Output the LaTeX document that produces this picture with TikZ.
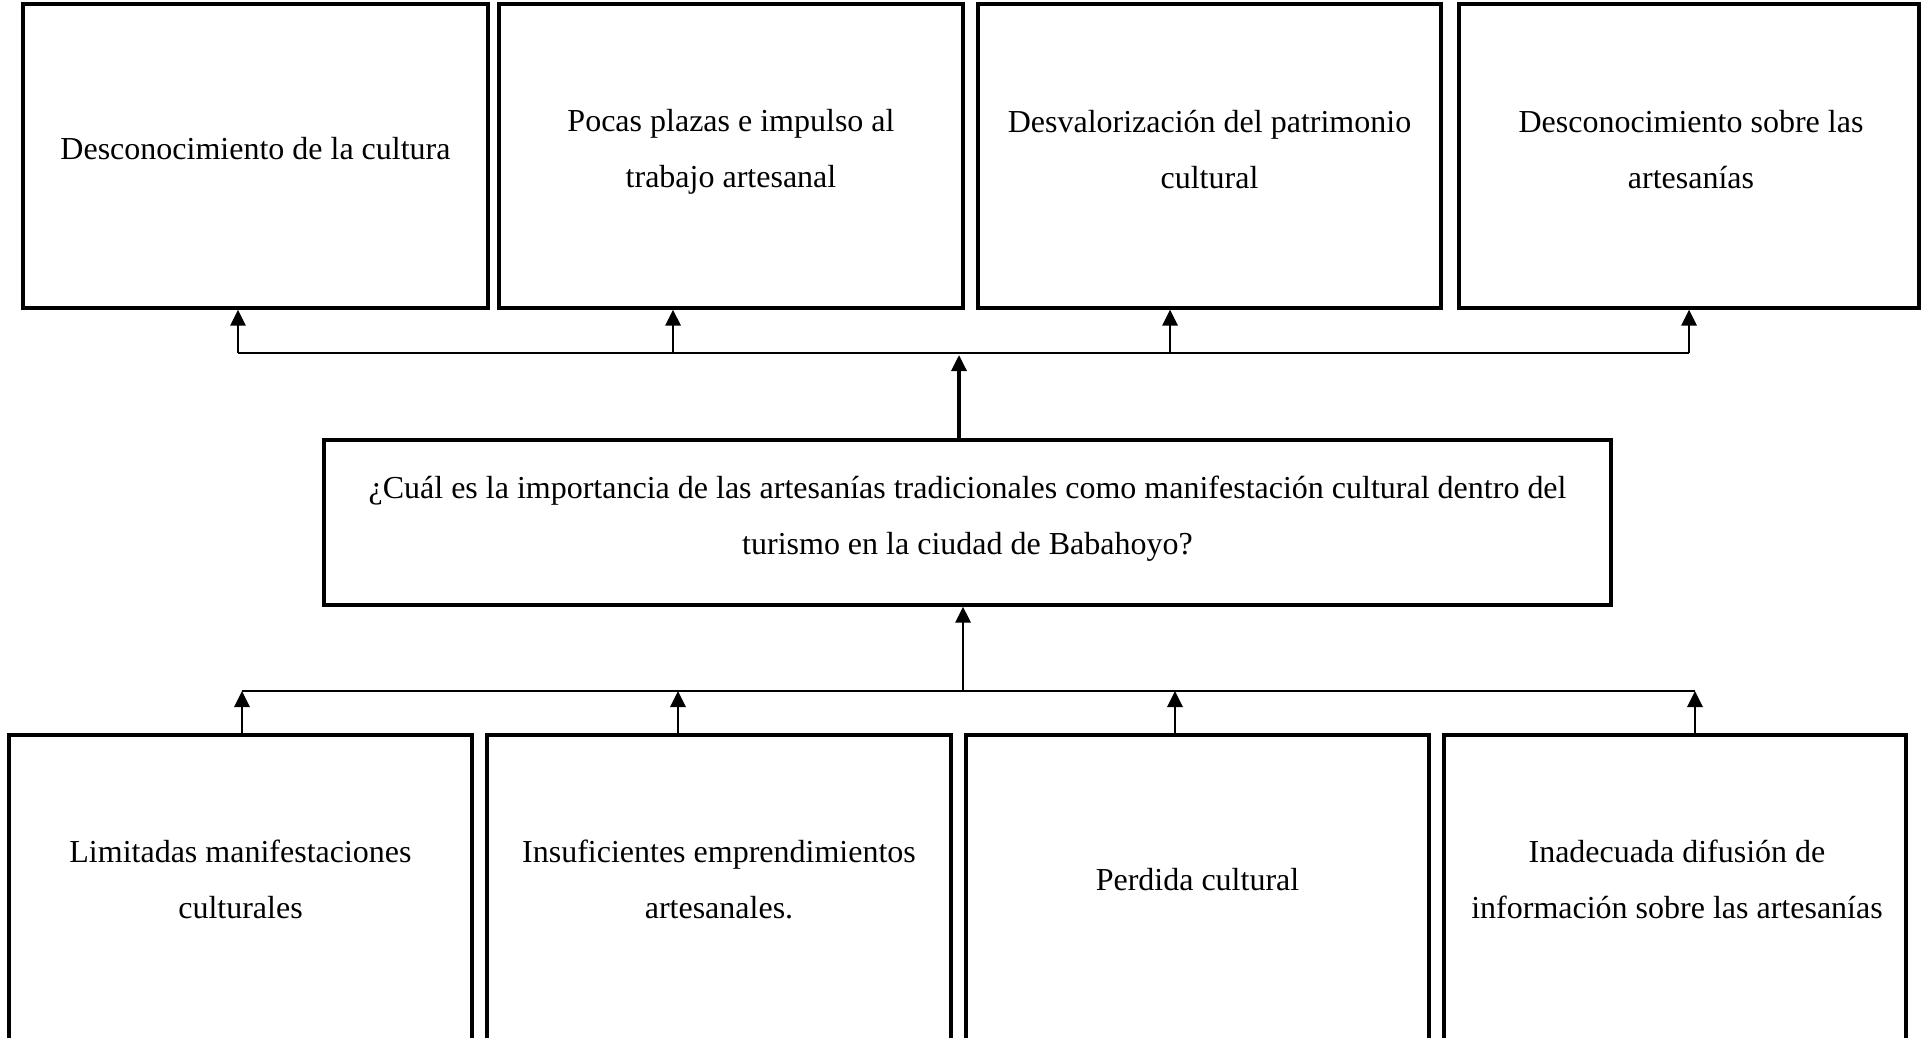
\documentclass[tikz,border=0pt]{standalone}
\usepackage{fontspec}
\setmainfont{Liberation Serif}
\usetikzlibrary{arrows.meta}

\begin{document}
\begin{tikzpicture}[x=0.5pt,y=0.5pt,yscale=-1,xscale=1,
	caja/.style={draw,line width=1.6pt,inner sep=0pt},
	texto/.style={align=center,inner sep=0pt,font=\fontsize{16}{28}\selectfont},
	flecha/.style={line width=1.45pt,-{Triangle[length=8pt,width=7.5pt]}},
	linea/.style={line width=1.45pt}]
	%set diagram left start at 0, and has height of 1038
	\useasboundingbox[fill=white] (0,0) rectangle (1927,1038);
	
	%Shape: Rectangle [efectos]
	\node[caja,minimum width=232.5pt,minimum height=152pt] (efecto1) at (255.5,156) {};
	\node[caja,minimum width=232pt,minimum height=152pt] (efecto2) at (731,156) {};
	\node[caja,minimum width=231.5pt,minimum height=152pt] (efecto3) at (1209.5,156) {};
	\node[caja,minimum width=230pt,minimum height=152pt] (efecto4) at (1689,156) {};
	%Shape: Rectangle [pregunta]
	\node[caja,minimum width=643.5pt,minimum height=82.5pt] (pregunta) at (967.5,522.5) {};
	%Shape: Rectangle [causas]
	\node[caja,minimum width=231.5pt,minimum height=162.5pt] (causa1) at (240.5,897.5) {};
	\node[caja,minimum width=232pt,minimum height=162.5pt] (causa2) at (719,897.5) {};
	\node[caja,minimum width=231.5pt,minimum height=162.5pt] (causa3) at (1197.5,897.5) {};
	\node[caja,minimum width=231pt,minimum height=162.5pt] (causa4) at (1675,897.5) {};
	
	% Text Node
	\node[texto] (efecto1txt) at (255.5,149) {Desconocimiento de la cultura};
	% Text Node
	\node[texto] (efecto2txt) at (731,152) {Pocas plazas e impulso al\\trabajo artesanal};
	% Text Node
	\node[texto] (efecto3txt) at (1209.5,150) {Desvalorización del patrimonio\\cultural};
	% Text Node
	\node[texto] (efecto4txt) at (1691,150) {Desconocimiento sobre las\\artesanías};
	% Text Node
	\node[texto] (preguntatxt) at (967.5,519) {¿Cuál es la importancia de las artesanías tradicionales como manifestación cultural dentro del\\turismo en la ciudad de Babahoyo?};
	% Text Node
	\node[texto] (causa1txt) at (240.5,879) {Limitadas manifestaciones\\culturales};
	% Text Node
	\node[texto] (causa2txt) at (719,879) {Insuficientes emprendimientos\\artesanales.};
	% Text Node
	\node[texto] (causa3txt) at (1197.5,880) {Perdida cultural};
	% Text Node
	\node[texto] (causa4txt) at (1677,879) {Inadecuada difusión de\\información sobre las artesanías};
	
	%Connectors top
	\coordinate (t1) at (238,353);
	\coordinate (t2) at (673,353);
	\coordinate (t3) at (1170,353);
	\coordinate (t4) at (1689,353);
	\coordinate (tc) at (959,355);
	\draw[linea] (t1) -- (t4);
	\draw[flecha] (t1) -- (t1 |- efecto1.south);
	\draw[flecha] (t2) -- (t2 |- efecto2.south);
	\draw[flecha] (t3) -- (t3 |- efecto3.south);
	\draw[flecha] (t4) -- (t4 |- efecto4.south);
	\draw[flecha,line width=1.7pt] (tc |- pregunta.north) -- (tc);
	
	%Connectors bottom
	\coordinate (b1) at (242,691);
	\coordinate (b2) at (678,691);
	\coordinate (b3) at (1175,691);
	\coordinate (b4) at (1695,691);
	\coordinate (bc) at (963,691);
	\draw[linea] (b1) -- (b4);
	\draw[flecha] (causa1.north -| b1) -- (b1);
	\draw[flecha] (causa2.north -| b2) -- (b2);
	\draw[flecha] (causa3.north -| b3) -- (b3);
	\draw[flecha] (causa4.north -| b4) -- (b4);
	\draw[flecha] (bc) -- (bc |- pregunta.south);
	
\end{tikzpicture}
\end{document}
